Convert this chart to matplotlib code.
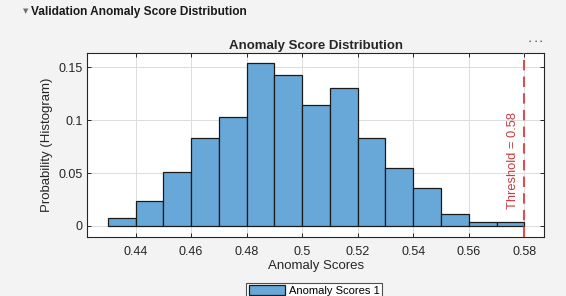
import matplotlib
matplotlib.use("Agg")
import matplotlib.pyplot as plt
import numpy as np

bin_edges = [0.43, 0.44, 0.45, 0.46, 0.47, 0.48, 0.49, 0.50, 0.51, 0.52, 0.53, 0.54, 0.55, 0.56, 0.57, 0.58]
probabilities = [0.0073, 0.0233, 0.0507, 0.0829, 0.1027, 0.1538, 0.1425, 0.1141, 0.1302, 0.0829, 0.0545, 0.0359, 0.0110, 0.0035, 0.0035]
threshold = 0.58
xticks = [0.44, 0.46, 0.48, 0.50, 0.52, 0.54, 0.56, 0.58]
xticklabels = ["0.44", "0.46", "0.48", "0.5", "0.52", "0.54", "0.56", "0.58"]
yticks = [0, 0.05, 0.10, 0.15]
yticklabels = ["0", "0.05", "0.1", "0.15"]

plt.rcParams['font.family'] = ['Liberation Sans', 'DejaVu Sans']
W, H = 566, 296
fig = plt.figure(figsize=(W/100, H/100), dpi=100, facecolor='#f3f3f3')
ax = fig.add_axes([87.3/W, 1-237.3/H, (544.3-87.3)/W, (237.3-52.7)/H])
ax.set_facecolor('white')

edges = np.array(bin_edges)
widths = np.diff(edges)
ax.bar(edges[:-1], probabilities, width=widths, align='edge',
       color='#68a8d8', edgecolor='#1a1a1a', linewidth=0.9,
       label='Anomaly Scores 1', zorder=2)
ax.axvline(threshold, color='#d95050', linestyle=(0, (5, 3)), linewidth=1.5, zorder=3)
ax.text(threshold - 0.0042, 0.0615, 'Threshold = 0.58', rotation=90, color='#c83c3c',
        fontsize=9.3, ha='center', va='center', zorder=4)

ax.set_xlim(0.4226, 0.5872)
ax.set_ylim(-0.0107, 0.1638)
ax.set_xticks(xticks)
ax.set_xticklabels(xticklabels)
ax.set_yticks(yticks)
ax.set_yticklabels(yticklabels)
ax.tick_params(direction='in', top=True, right=True, length=3, labelsize=9,
               colors='#262626', width=0.7)
ax.tick_params(axis='x', pad=6)
ax.grid(True, color='#dcdcdc', linewidth=0.7, zorder=0)
ax.set_axisbelow(True)
for s in ax.spines.values():
    s.set_color('#262626')
    s.set_linewidth(0.8)

ax.set_xlabel('Anomaly Scores', fontsize=9.5, color='#262626', labelpad=2)
ax.set_ylabel('Probability (Histogram)', fontsize=9.5, color='#262626', labelpad=4)
ax.set_title('Anomaly Score Distribution', fontsize=9.5, fontweight='bold',
             color='#262626', pad=3)

fig.text(26/W, 1-11/H, '\u25BC', fontsize=5, color='#707070', va='center', ha='center',
         family=['DejaVu Sans'])
fig.text(31/W, 1-12/H, 'Validation Anomaly Score Distribution', fontsize=8.6,
         fontweight='bold', color='#1a1a1a', va='center', ha='left')
for dx in (530, 535.5, 541):
    fig.text(dx/W, 1-41/H, '\u2022', fontsize=4.5, color='#555555', va='center', ha='center')

leg = fig.legend(loc='upper center', bbox_to_anchor=(314/W, 1-277/H), fontsize=8,
                 frameon=True, fancybox=False, edgecolor='#262626',
                 handlelength=3.3, handleheight=1.0, borderpad=0.25, handletextpad=0.3)
leg.get_frame().set_linewidth(0.8)
leg.get_frame().set_facecolor('white')

fig.savefig('out.png', dpi=100, facecolor=fig.get_facecolor())
